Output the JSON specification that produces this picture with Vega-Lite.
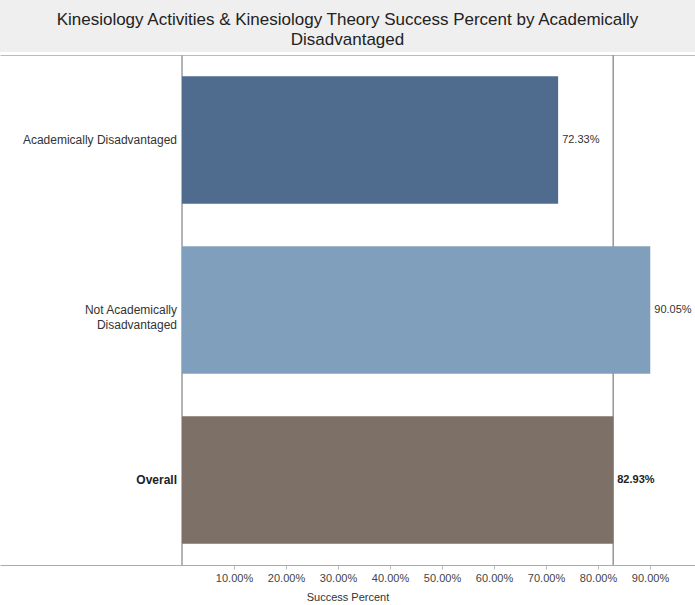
{
  "$schema": "https://vega.github.io/schema/vega-lite/v6.json",
  "padding": 0,
  "spacing": 3,
  "bounds": "flush",
  "background": "white",
  "config": {
    "font": "Liberation Sans"
  },
  "vconcat": [
    {
      "width": 695,
      "height": 52,
      "view": {"fill": "#efefef", "stroke": null},
      "data": {"values": [{"t": "Kinesiology Activities & Kinesiology Theory Success Percent by Academically\nDisadvantaged"}]},
      "mark": {"type": "text", "lineBreak": "\n", "fontSize": 17, "lineHeight": 20, "color": "#222", "align": "center", "baseline": "middle", "dy": -6},
      "encoding": {"text": {"field": "t"}}
    },
    {
      "width": 695,
      "height": 510,
      "view": {"stroke": null},
      "resolve": {"axis": {"x": "independent"}},
      "data": {"values": [
        {"group": "Academically Disadvantaged", "label": "Academically Disadvantaged", "pct": 0.7233},
        {"group": "Not Academically Disadvantaged", "label": "Not Academically\nDisadvantaged", "pct": 0.9005},
        {"group": "Overall", "label": "Overall", "pct": 0.8293}
      ]},
      "encoding": {
        "y": {"field": "group", "type": "nominal", "sort": null,
              "scale": {"paddingInner": 0.25, "paddingOuter": 0.125}, "axis": null}
      },
      "layer": [
        {
          "mark": {"type": "rule", "color": "#aaaaaa", "strokeWidth": 1},
          "encoding": {"x": {"datum": 0, "axis": null}, "y": null}
        },
        {
          "mark": {"type": "rule", "color": "#999999", "strokeWidth": 1},
          "encoding": {"x": {"datum": 0.8293, "axis": null}, "y": null}
        },
        {
          "mark": {"type": "bar", "opacity": 1},
          "encoding": {
            "x": {"field": "pct", "type": "quantitative",
                  "scale": {"domain": [-0.35, 0.9865], "nice": false, "zero": false},
                  "axis": {"values": [0.1, 0.2, 0.3, 0.4, 0.5, 0.6, 0.7, 0.8, 0.9], "format": ".2%",
                           "grid": false, "title": "Success Percent", "titleFontWeight": "normal",
                           "titleFontSize": 11, "titleColor": "#333", "titlePadding": 8,
                           "labelFontSize": 11, "labelColor": "#444", "labelPadding": 3,
                           "tickSize": 4, "tickColor": "#bbb", "domainColor": "#aaaaaa"}},
            "x2": {"datum": 0},
            "color": {"field": "group", "type": "nominal", "legend": null,
                      "scale": {"domain": ["Academically Disadvantaged", "Not Academically Disadvantaged", "Overall"],
                                "range": ["#4f6c8f", "#809fbc", "#7c7067"]}}
          }
        },
        {
          "mark": {"type": "text", "opacity": 0},
          "encoding": {
            "x": {"field": "pct", "type": "quantitative",
                  "axis": {"orient": "top", "labels": false, "ticks": false, "title": null, "grid": false,
                           "domainColor": "#bbbbbb"}},
            "text": {"value": ""}
          }
        },
        {
          "transform": [{"filter": "datum.group != 'Overall'"}],
          "mark": {"type": "text", "align": "left", "dx": 4, "fontSize": 11, "color": "#333"},
          "encoding": {"x": {"field": "pct", "type": "quantitative", "axis": null}, "text": {"field": "pct", "format": ".2%"}}
        },
        {
          "transform": [{"filter": "datum.group == 'Overall'"}],
          "mark": {"type": "text", "align": "left", "dx": 4, "fontSize": 11, "fontWeight": "bold", "color": "#222"},
          "encoding": {"x": {"field": "pct", "type": "quantitative", "axis": null}, "text": {"field": "pct", "format": ".2%"}}
        },
        {
          "transform": [{"filter": "datum.group != 'Overall'"}],
          "mark": {"type": "text", "align": "right", "dx": -5, "fontSize": 12, "lineBreak": "\n", "lineHeight": 15, "color": "#333"},
          "encoding": {"x": {"datum": 0, "axis": null}, "text": {"field": "label"}}
        },
        {
          "transform": [{"filter": "datum.group == 'Overall'"}],
          "mark": {"type": "text", "align": "right", "dx": -5, "fontSize": 12, "fontWeight": "bold", "color": "#222"},
          "encoding": {"x": {"datum": 0, "axis": null}, "text": {"field": "label"}}
        }
      ]
    }
  ]
}
